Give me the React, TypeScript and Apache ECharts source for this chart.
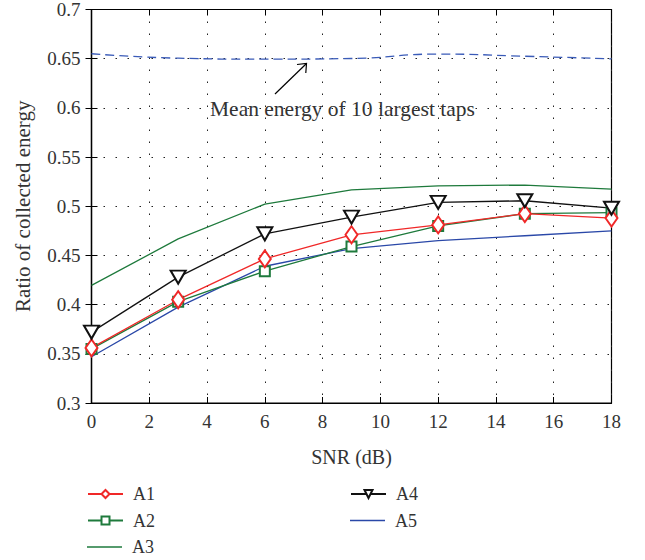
import React, { useEffect, useRef } from "react";
import * as echarts from "echarts";

const snr = [0, 3, 6, 9, 12, 15, 18];
const a1 = [0.356, 0.405, 0.4465, 0.471, 0.481, 0.4925, 0.488];
const a2 = [0.355, 0.403, 0.434, 0.459, 0.48, 0.4925, 0.4935];
const a3 = [0.4195, 0.4668, 0.5022, 0.5167, 0.5208, 0.5215, 0.5175];
const a4 = [0.372, 0.428, 0.472, 0.489, 0.504, 0.5056, 0.498];
const a5 = [0.347, 0.3975, 0.439, 0.457, 0.465, 0.47, 0.475];
const meanEnergy = [0.655, 0.6505, 0.6495, 0.6502, 0.6547, 0.6525, 0.6498];
const annotationText = "Mean energy of 10 largest taps";

const FONT = "Liberation Serif";
const TXT = "#333";
const LINE_ICON = "path://M0,0 L36,0 L36,1.3 L0,1.3 Z";

function pairs(vals: number[]) {
  return snr.map((x, i) => [x, vals[i]]);
}

function legendItem(name: string, left: number, centerY: number, icon?: string) {
  return {
    orient: "vertical",
    left,
    top: centerY - 13,
    itemWidth: 35,
    itemHeight: 10,
    textStyle: { fontFamily: FONT, fontSize: 18, color: TXT, padding: [0, 0, 0, 5] },
    data: [icon ? { name, icon } : { name }],
  };
}

export default function App() {
  const ref = useRef<HTMLDivElement>(null);
  useEffect(() => {
    if (!ref.current) return;
    const chart = echarts.init(ref.current, null, { renderer: "svg" });
    const gridDots = { show: true, lineStyle: { color: "#222", type: [1.5, 10.5] as any, width: 1 } };
    const option: any = {
      animation: false,
      backgroundColor: "#fff",
      textStyle: { fontFamily: FONT },
      grid: { left: 91.5, right: 33.5, top: 8, bottom: 157, show: true, borderColor: "#000", borderWidth: 1.2 },
      xAxis: [
        {
          type: "value", min: 0, max: 18, interval: 2,
          name: "SNR (dB)", nameLocation: "middle", nameGap: 44,
          nameTextStyle: { fontFamily: FONT, fontSize: 20, color: TXT },
          axisLine: { show: true, lineStyle: { color: "#000", width: 1.2 } },
          axisTick: { show: true, inside: true, length: 6, lineStyle: { color: "#000" } },
          axisLabel: { fontFamily: FONT, fontSize: 19, color: TXT, margin: 9 },
          splitLine: gridDots,
        },
        {
          type: "value", min: 0, max: 18, interval: 2, position: "top",
          axisLine: { show: true, lineStyle: { color: "#000", width: 1.2 } },
          axisTick: { show: true, inside: true, length: 6, lineStyle: { color: "#000" } },
          axisLabel: { show: false }, splitLine: { show: false },
        },
      ],
      yAxis: [
        {
          type: "value", min: 0.3, max: 0.7, interval: 0.05,
          name: "Ratio of collected energy", nameLocation: "middle", nameGap: 58,
          nameTextStyle: { fontFamily: FONT, fontSize: 21, color: TXT },
          axisLine: { show: true, lineStyle: { color: "#000", width: 1.2 } },
          axisTick: { show: true, inside: true, length: 6, lineStyle: { color: "#000" } },
          axisLabel: {
            fontFamily: FONT, fontSize: 19, color: TXT, margin: 11,
            formatter: (v: number) => String(parseFloat(v.toFixed(2))),
          },
          splitLine: gridDots,
        },
        {
          type: "value", min: 0.3, max: 0.7, interval: 0.05, position: "right",
          axisLine: { show: true, lineStyle: { color: "#000", width: 1.2 } },
          axisTick: { show: true, inside: true, length: 6, lineStyle: { color: "#000" } },
          axisLabel: { show: false }, splitLine: { show: false },
        },
      ],
      legend: [
        legendItem("A1", 82, 493),
        legendItem("A2", 82, 519.5),
        legendItem("A3", 82, 546, LINE_ICON),
        legendItem("A4", 345, 493),
        legendItem("A5", 345, 519.5, LINE_ICON),
      ],
      series: [
        {
          name: "Mean", type: "line", data: pairs(meanEnergy), smooth: true, showSymbol: false,
          lineStyle: { color: "#3a5bb8", width: 1.3, type: [9, 5] }, itemStyle: { color: "#3a5bb8" },
        },
        {
          name: "A5", type: "line", data: pairs(a5), showSymbol: false, symbol: "none",
          lineStyle: { color: "#2a48a8", width: 1.3 }, itemStyle: { color: "#2a48a8" },
        },
        {
          name: "A3", type: "line", data: pairs(a3), showSymbol: false, symbol: "none",
          lineStyle: { color: "#1e7a3c", width: 1.3 }, itemStyle: { color: "#1e7a3c" },
        },
        {
          name: "A2", type: "line", data: pairs(a2), symbol: "emptyRect", symbolSize: 10,
          lineStyle: { color: "#1e7a3c", width: 1.3 }, itemStyle: { color: "#1e7a3c", borderWidth: 1.3 },
        },
        {
          name: "A1", type: "line", data: pairs(a1), symbol: "emptyDiamond", symbolSize: [12, 17],
          lineStyle: { color: "#f02828", width: 1.3 }, itemStyle: { color: "#f02828", borderWidth: 1.3 },
        },
        {
          name: "A4", type: "line", data: pairs(a4), symbol: "emptyTriangle", symbolSize: [15, 13], symbolRotate: 180,
          lineStyle: { color: "#111", width: 1.3 }, itemStyle: { color: "#111", borderWidth: 1.3 },
        },
      ],
      graphic: [
        {
          type: "text", left: 210, top: 98,
          style: { text: annotationText, fontFamily: FONT, fontSize: 21.5, fill: TXT },
        },
        { type: "line", shape: { x1: 275, y1: 94, x2: 306.5, y2: 63.5 }, style: { stroke: "#000", lineWidth: 1.2 } },
        {
          type: "polyline", shape: { points: [[297, 64.5], [306.5, 63.5], [305.8, 73]] },
          style: { stroke: "#000", lineWidth: 1.2, fill: null },
        },
      ],
    };
    chart.setOption(option);
    return () => chart.dispose();
  }, []);
  return <div ref={ref} style={{ position: "fixed", left: 0, top: 0, width: 645, height: 560 }} />;
}
